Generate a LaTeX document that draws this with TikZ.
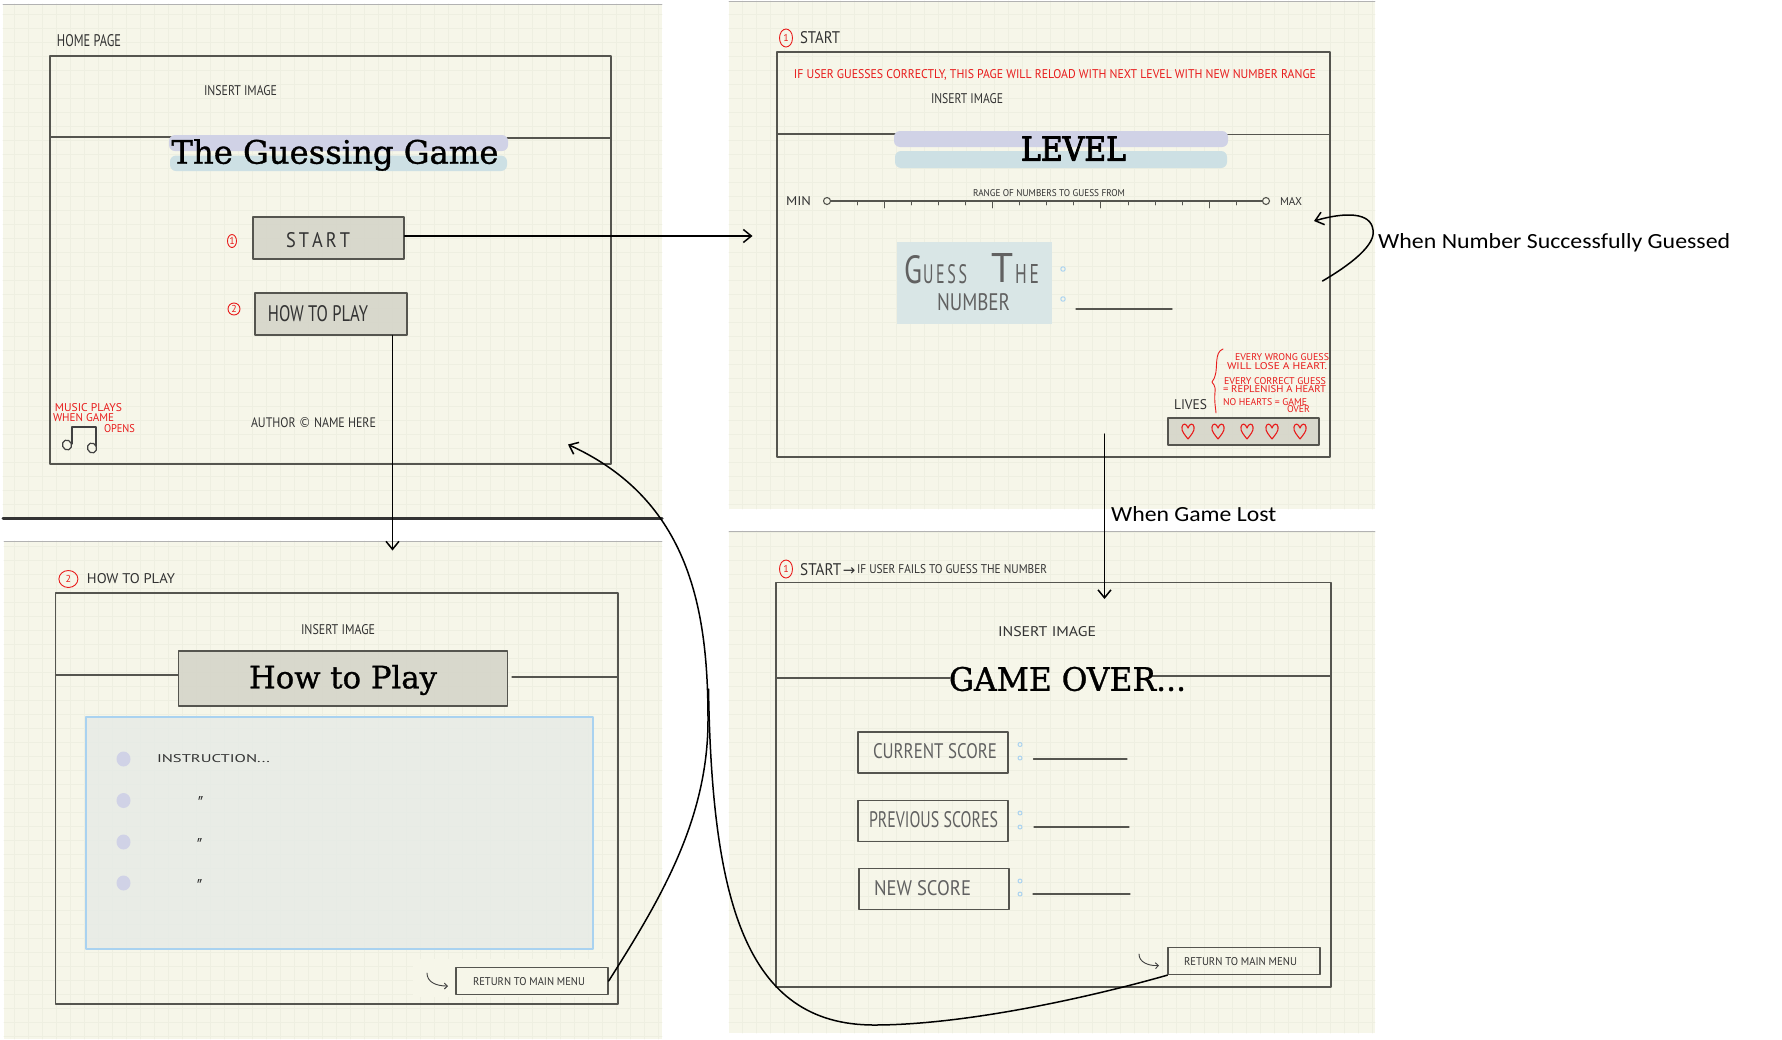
\documentclass[tikz,border=0pt]{standalone}
\usepackage{fontspec}
\usetikzlibrary{arrows.meta,shapes.geometric}
\newfontfamily\handfont{PT Sans}
\newfontfamily\slabfont[FakeBold=1]{DejaVu Serif}
\newfontfamily\levelfont[FakeBold=3]{DejaVu Serif}
\newfontfamily\labelfont{Carlito}
\newfontfamily\symfont{DejaVu Sans}
\definecolor{paper}{HTML}{F6F6E9}
\definecolor{gridcol}{HTML}{EEEFE1}
\definecolor{framecol}{HTML}{55554F}
\definecolor{btncol}{HTML}{D6D6CA}
\definecolor{lilac}{HTML}{D0D2E6}
\definecolor{paleblue}{HTML}{CDE0E4}
\definecolor{guesscol}{HTML}{D9E6E6}
\definecolor{skyline}{HTML}{A9D2F0}
\definecolor{infobg}{HTML}{E6EAE6}
\definecolor{inkred}{HTML}{E81C1C}
% text squeezed to a given width and height
\newcommand{\hw}[3]{\resizebox{#1pt}{#2pt}{#3}}
\tikzset{
  hand/.style={inner sep=0pt,text=black!80,font=\handfont},
  thinhand/.style={hand,text=black!62},
  redhand/.style={hand,text=inkred},
  slab/.style={inner sep=0pt,text=black,font=\slabfont},
  frameline/.style={draw=framecol,line width=1.3pt},
  btnbox/.style={frameline,fill=btncol,fill opacity=.92,inner sep=0pt},
  plainbox/.style={frameline,inner sep=0pt},
  numring/.style={draw=inkred,ellipse,inner sep=0pt,line width=.9pt,text=inkred,font=\handfont\fontsize{10}{10}\selectfont},
  dotmark/.style={circle,draw=skyline,line width=1pt,inner sep=0pt,minimum size=4.5pt},
  bullet/.style={ellipse,fill=lilac,inner sep=0pt,minimum width=14pt,minimum height=15pt},
  link/.style={->,black,line width=1.5pt},
  note/.style={inner sep=0pt,text=black,font=\labelfont},
  ditto/.style={hand,font=\handfont\itshape\fontsize{20}{20}\selectfont},
  heart/.pic={\draw[inkred,line width=1.1pt] (0,8)..controls (-3,4) and (-7,0)..(-6,-4)..controls (-5.5,-8) and (-1.5,-8)..(0,-3)..controls (1.5,-8) and (5.5,-8)..(6,-4)..controls (7,0) and (3,4)..(0,8);}
}
\begin{document}
\begin{tikzpicture}[x=1pt,y=-1pt,line join=round,line cap=round,>={Straight Barb[length=8pt,width=13pt]}]
\useasboundingbox (0,0) rectangle (1782,1039);
\fill[white] (0,0) rectangle (1782,1039);
% paper panels
\foreach \xa/\ya/\xb/\yb in {3/4/662/518,729/1/1375/509,4/541/662/1039,729/531/1375/1033}{
  \fill[paper] (\xa,\ya) rectangle (\xb,\yb);
  \draw[gridcol,line width=.8pt,step=14pt] (\xa,\ya) grid (\xb,\yb);
  \draw[black!30,line width=.8pt] (\xa,\ya)--(\xb,\ya);
}
\fill[paper] (413,959) rectangle (610,997);
\draw[black!80,line width=3pt] (3,518)--(662,518);

% home page
\draw[frameline] (50,56) rectangle (611,464);
\draw[frameline] (50,137)--(172,137) (507,138)--(611,138);
\fill[lilac,rounded corners=6pt] (169,135) rectangle (508,151);
\fill[paleblue,rounded corners=6pt] (170,155.5) rectangle (507,171);
\node[hand] (homelbl) at (89,40.5) {\hw{64}{12}{HOME PAGE}};
\node[hand] (homeimg) at (240.5,91) {\hw{73}{10}{INSERT IMAGE}};
\node[slab] (hometitle) at (335,155) {\resizebox{327pt}{!}{The Guessing Game}};
\node[btnbox,minimum width=151pt,minimum height=42pt] (startbtn) at (328.5,238) {};
\node[hand] (startlbl) at (318,240) {\hw{64}{15}{S\,T\,A\,R\,T}};
\node[btnbox,minimum width=152pt,minimum height=42pt] (howbtn) at (331,314) {};
\node[hand] (howlbl) at (318,314) {\hw{100}{16}{HOW TO PLAY}};
\node[numring,minimum width=9pt,minimum height=13pt] (ringa) at (232,241) {1};
\node[numring,minimum width=12pt,minimum height=12pt] (ringb) at (234,309) {2};
\node[redhand] (musica) at (88.5,408) {\hw{67}{8}{MUSIC PLAYS}};
\node[redhand] (musicb) at (83.5,418) {\hw{61}{8}{WHEN GAME}};
\node[redhand] (musicc) at (119.5,429) {\hw{31}{8}{OPENS}};
\node[hand] (authorlbl) at (313.5,423) {\hw{125}{10}{AUTHOR {\symfont ©} NAME HERE}};
\draw[black!75,line width=1.2pt] (72,444)--(72,427)--(96,427)--(96,446);
\draw[black!75,line width=1.2pt,rotate around={20:(67,445)}] (67,445) ellipse (4.5pt and 5pt);
\draw[black!75,line width=1.2pt,rotate around={20:(92,448)}] (92,448) ellipse (4.5pt and 5pt);

% start page
\draw[frameline] (777,52) rectangle (1330,457);
\draw[frameline] (777,134)--(896,134) (1226,134.5)--(1330,134.5);
\fill[lilac,rounded corners=6pt] (894,131) rectangle (1228,147);
\fill[paleblue,rounded corners=6pt] (895,151) rectangle (1227,168);
\node[numring,minimum width=13pt,minimum height=18pt] (ringc) at (786,38) {1};
\node[hand] (startttl) at (820,38) {\hw{40}{12}{START}};
\node[redhand] (reloadlbl) at (1055,75) {\hw{522}{9}{IF USER GUESSES CORRECTLY, THIS PAGE WILL RELOAD WITH NEXT LEVEL WITH NEW NUMBER RANGE}};
\node[hand] (levelimg) at (967,99) {\hw{72}{10}{INSERT IMAGE}};
\node[slab,font=\levelfont] (leveltitle) at (1073.5,148.5) {\hw{105}{24}{LEVEL}};
\node[hand] (rangelbl) at (1049,193) {\hw{152}{7}{RANGE OF NUMBERS TO GUESS FROM}};
\node[hand] (minlbl) at (798.5,201) {\hw{25}{9}{MIN}};
\node[hand] (maxlbl) at (1291,201) {\hw{22}{8}{MAX}};
\node[circle,draw=framecol,line width=1.1pt,minimum size=7pt,inner sep=0pt] (slidemin) at (827,201) {};
\node[circle,draw=framecol,line width=1.1pt,minimum size=7pt,inner sep=0pt] (slidemax) at (1266,201) {};
\draw[framecol,line width=1.2pt] (slidemin)--(slidemax);
\foreach \i in {0,...,14}{
  \pgfmathsetmacro{\tx}{857+27.1*\i}
  \draw[framecol,line width=.9pt] (\tx,201)--(\tx,205);
}
\foreach \i in {1,5,9,13}{
  \pgfmathsetmacro{\tx}{857+27.1*\i}
  \draw[framecol,line width=.9pt] (\tx,201)--(\tx,208);
}
\node[fill=guesscol,minimum width=155pt,minimum height=82pt,inner sep=0pt] (guessbox) at (974.5,283) {};
\node[thinhand] (guessg) at (913,270) {\hw{18}{28}{G}};
\node[thinhand] (guessuess) at (945,274) {\hw{44}{19}{U\,E\,S\,S}};
\node[thinhand] (guesst) at (1002,268) {\hw{22}{29}{T}};
\node[thinhand] (guesshe) at (1027,274) {\hw{24}{19}{H\,E}};
\node[thinhand] (numberlbl) at (973.5,302.5) {\hw{73}{17}{NUMBER}};
\node[dotmark] (dota) at (1063,269) {};
\node[dotmark] (dotb) at (1063,299) {};
\draw[framecol,line width=1.3pt] (1076,309)--(1172,309);
\node[hand] (liveslbl) at (1190.5,405) {\hw{33}{10}{LIVES}};
\node[btnbox,minimum width=151pt,minimum height=27pt] (livesbox) at (1243.5,431.5) {};
\foreach \x in {1188,1218,1247,1272,1300} \pic at (\x,431) {heart};
\draw[inkred,line width=.9pt] (1223,349)..controls (1214,352) and (1218,368)..(1215,376)..controls (1214,380) and (1212,381)..(1212,382)..controls (1212,383) and (1216,385)..(1215,392)..controls (1214,402) and (1216,410)..(1216,413);
\node[redhand] (wronga) at (1282,357) {\hw{94}{7}{EVERY WRONG GUESS}};
\node[redhand] (wrongb) at (1277,366) {\hw{100}{7}{WILL LOSE A HEART.}};
\node[redhand] (righta) at (1275,381) {\hw{102}{7}{EVERY CORRECT GUESS}};
\node[redhand] (rightb) at (1274.5,389) {\hw{103}{7}{= REPLENISH A HEART}};
\node[redhand] (nonea) at (1265,402) {\hw{84}{7}{NO HEARTS = GAME}};
\node[redhand] (noneb) at (1298.5,409.5) {\hw{23}{7}{OVER}};

% how to play page
\draw[frameline] (55.5,593) rectangle (618,1004);
\draw[frameline] (55.5,675)--(178.6,675) (512,677)--(618,677);
\node[numring,minimum width=19pt,minimum height=17pt] (ringd) at (68.4,579) {2};
\node[hand] (howttl) at (131,579) {\hw{88}{10}{HOW TO PLAY}};
\node[hand] (howimg) at (338,630) {\hw{74}{10}{INSERT IMAGE}};
\node[btnbox,minimum width=329pt,minimum height=55pt] (howbox) at (343.3,678.5) {};
\node[slab] (howtitle) at (343,680) {\resizebox{188pt}{!}{How to Play}};
\node[draw=skyline,line width=1.2pt,fill=infobg,fill opacity=.8,minimum width=507pt,minimum height=232pt,inner sep=0pt] (infobox) at (339.5,833) {};
\node[bullet] (buleta) at (123.5,759) {};
\node[bullet] (buletb) at (123.5,800.5) {};
\node[bullet] (buletc) at (123.5,842) {};
\node[bullet] (buletd) at (123.5,883) {};
\node[hand] (instrlbl) at (213.5,759) {\hw{113}{8}{INSTRUCTION...}};
\node[ditto] (dittoa) at (200,803) {"};
\node[ditto] (dittob) at (199,845) {"};
\node[ditto] (dittoc) at (199,886) {"};
\node[plainbox,minimum width=152pt,minimum height=27.5pt] (backa) at (532,981) {};
\node[hand] (backalbl) at (529,982) {\hw{112}{8}{RETURN TO MAIN MENU}};
\coordinate (hooka) at (427,973);
\coordinate (hookb) at (448,986);
\draw[->,>={Straight Barb[length=3pt,width=6pt]},black!75,line width=.9pt] (hooka)..controls (427,982) and (436,986)..(hookb);

% game over page
\draw[frameline] (776,582.5) rectangle (1331,987);
\draw[frameline] (776,678)--(950,678) (1152,676)--(1331,676);
\node[numring,minimum width=13pt,minimum height=18pt] (ringe) at (786,569) {1};
\node[hand,anchor=west] (overttl) at (800,569.5) {\hw{41}{12}{START}\,{\symfont\fontsize{15}{15}\selectfont →}\,\raisebox{1.5pt}{\hw{190}{9}{IF USER FAILS TO GUESS THE NUMBER}}};
\node[hand] (overimg) at (1047,632) {\hw{98}{10}{INSERT IMAGE}};
\node[slab] (overtitle) at (1067.5,679) {\hw{237}{24}{GAME OVER...}};
\node[plainbox,minimum width=150pt,minimum height=41pt] (curbox) at (933,752.5) {};
\node[thinhand] (curlbl) at (935,751) {\hw{124}{15}{CURRENT SCORE}};
\node[plainbox,minimum width=150pt,minimum height=41pt] (prevbox) at (933,821) {};
\node[thinhand] (prevlbl) at (933.5,820) {\hw{129}{16}{PREVIOUS SCORES}};
\node[plainbox,minimum width=150pt,minimum height=41pt] (newbox) at (934,889) {};
\node[thinhand] (newlbl) at (922.5,888) {\hw{97}{15}{NEW SCORE}};
\foreach \n/\ya/\yb/\xa/\xb/\yc in {cur/744.5/758/1033.5/1127/759,prev/813/827/1034/1129/827,new/881/894/1033/1130/894}{
  \node[dotmark,minimum size=4pt] (\n dota) at (1020,\ya) {};
  \node[dotmark,minimum size=4pt] (\n dotb) at (1020,\yb) {};
  \draw[framecol,line width=1.2pt] (\xa,\yc)--(\xb,\yc);
}
\node[plainbox,minimum width=152pt,minimum height=27pt] (backb) at (1244,961) {};
\node[hand] (backblbl) at (1240.5,962) {\hw{113}{8}{RETURN TO MAIN MENU}};
\coordinate (hookc) at (1139,954);
\coordinate (hookd) at (1159,965.5);
\draw[->,>={Straight Barb[length=3pt,width=6pt]},black!75,line width=.9pt] (hookc)..controls (1139,962) and (1148,966)..(hookd);

% links between the pages
\coordinate (startin) at (752.5,236);
\coordinate (howin) at (392.5,550.5);
\coordinate (homein) at (568,444.5);
\coordinate (retrya) at (1322.5,281);
\coordinate (retryb) at (1314,221);
\coordinate (lostout) at (1104.5,434);
\coordinate (lostin) at (1104.5,599);
\coordinate (joinout) at (708.5,689);
\draw[link] (startbtn.east |- startin)--(startin);
\draw[link] (howbtn.south -| howin)--(howin);
\draw[link] (lostout)--(lostin);
\draw[link] (retrya)..controls (1350,265) and (1376,245)..(1373,230)..controls (1371,212) and (1345,212)..(retryb);
\draw[link] (backa.east)..controls (660,900) and (708,820)..(708,720)..controls (708,610) and (690,500)..(homein);
\draw[black,line width=1.5pt] (joinout)..controls (712,900) and (745,1025)..(874,1025)..controls (960,1025) and (1080,1000)..(backb.south west);
\node[note,anchor=west] (retrylbl) at (1378,243) {\hw{352}{15}{When Number Successfully Guessed}};
\node[note,anchor=west] (lostlbl) at (1111,514.5) {\hw{165}{15}{When Game Lost}};
\end{tikzpicture}
\end{document}
